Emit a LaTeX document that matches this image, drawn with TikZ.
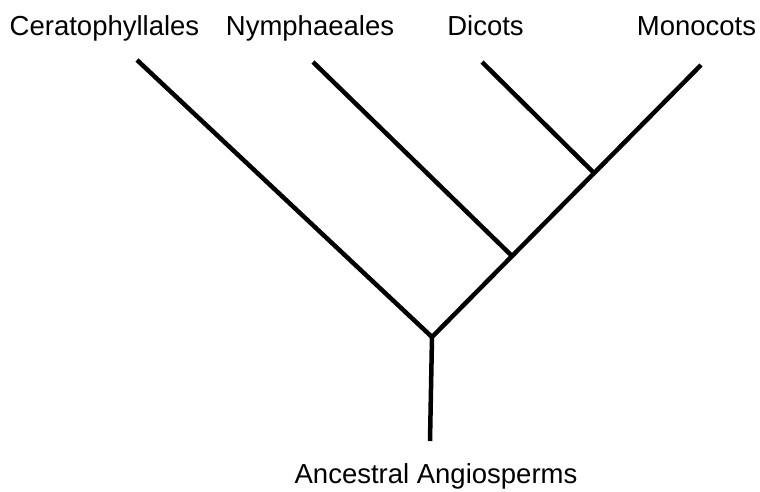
\documentclass[tikz,border=0pt]{standalone}
\usepackage{fontspec}
\setmainfont{Liberation Sans}
\begin{document}
\begin{tikzpicture}[x=1pt,y=-1pt,
  branch/.style={line width=4.5pt,line cap=butt},
  taxon/.style={anchor=base,inner sep=0pt,font=\fontsize{27.5}{32}\selectfont}]
\useasboundingbox (0,0) rectangle (760,491);
\node[taxon] (cer) at (104.5,35) {Ceratophyllales};
\node[taxon] (nym) at (310,35) {Nymphaeales};
\node[taxon] (dic) at (485.5,35) {Dicots};
\node[taxon] (mon) at (696.5,35) {Monocots};
\node[taxon] (anc) at (436,483) {Ancestral Angiosperms};
\coordinate (root) at (432,337);
\coordinate (base) at (430,441);
\coordinate (j1) at (512,256);
\coordinate (j2) at (593,172);
\coordinate (tcer) at (137,60);
\coordinate (tnym) at (313,62);
\coordinate (tdic) at (482,62);
\coordinate (tmon) at (701,65);
\draw[branch] (base) -- (root);
\draw[branch] (root) -- (tcer);
\draw[branch] (root) -- (tmon);
\draw[branch] (j1) -- (tnym);
\draw[branch] (j2) -- (tdic);
\end{tikzpicture}
\end{document}
